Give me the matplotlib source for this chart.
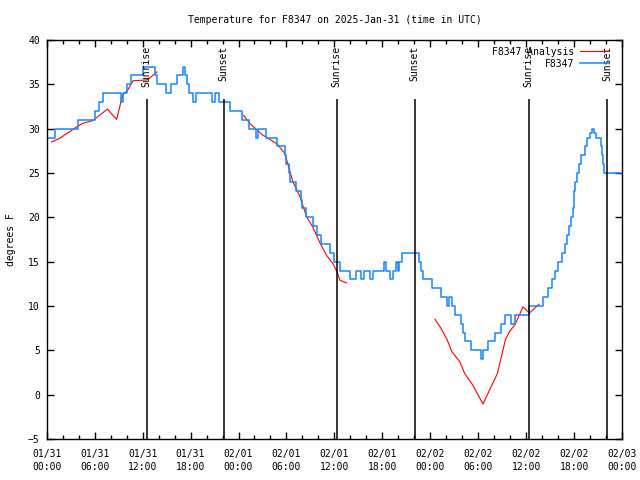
import numpy as np
import matplotlib
matplotlib.use("Agg")
from matplotlib import pyplot as plt
from matplotlib.ticker import MultipleLocator

# hours since 2025-01-31 00:00 UTC
obs_hours = [0.0, 1.0, 3.9, 6.0, 6.5, 7.0, 9.25, 9.6, 10.0, 10.6, 12.0, 13.5, 13.75,
             14.9, 15.5, 16.3, 17.0, 17.3, 17.5, 17.8, 18.3, 18.65, 20.65, 21.0, 21.5,
             22.9, 24.4, 25.3, 26.2, 26.5, 27.5, 28.8, 29.8, 30.0, 30.3, 30.5, 31.2,
             31.8, 32.0, 32.5, 33.3, 33.8, 34.3, 35.4, 35.9, 36.7, 38.0, 38.7, 39.3,
             39.7, 40.4, 40.8, 42.2, 42.4, 42.9, 43.3, 43.7, 43.9, 44.05, 44.4, 46.6,
             46.8, 47.1, 48.2, 49.4, 50.1, 50.4, 50.7, 51.1, 51.8, 52.1, 52.3, 53.1,
             54.3, 54.6, 55.2, 56.1, 56.9, 57.4, 58.1, 58.6, 60.3, 62.1, 62.7, 63.2,
             63.6, 64.0, 64.5, 64.8, 65.1, 65.3, 65.6, 65.8, 66.0, 66.1, 66.3, 66.6,
             66.8, 67.3, 67.6, 67.96, 68.2, 68.5, 68.7, 69.3, 69.5, 69.6, 69.8, 71.8]
obs_temp = [29, 30, 31, 32, 33, 34, 33, 34, 35, 36, 37, 36, 35,
            34, 35, 36, 37, 36, 35, 34, 33, 34, 33, 34, 33,
            32, 31, 30, 29, 30, 29, 28, 27, 26, 25, 24, 23,
            22, 21, 20, 19, 18, 17, 16, 15, 14, 13, 14, 13,
            14, 13, 14, 15, 14, 13, 14, 15, 14, 15, 16, 15,
            14, 13, 12, 11, 10, 11, 10, 9, 8, 7, 6, 5,
            4, 5, 6, 7, 8, 9, 8, 9, 10, 11, 12, 13,
            14, 15, 16, 17, 18, 19, 20, 21, 23, 24, 25, 26,
            27, 28, 29, 29.5, 30, 29.5, 29, 28, 27, 26, 25, 25]

# analysis series (nan = gap)
ana_hours = [0.6, 1.6, 2.6, 3.75, 4.5, 5.75, 6.6, 7.6, 8.75, 9.5, 10.1, 10.8, 12.6, 13.8,
             19.0,
             24.65, 25.4, 27.0, 28.8, 29.8, 30.4, 30.8, 31.3, 31.7, 32.5, 33.3, 34.2,
             35.0, 35.8, 36.3, 36.7, 37.5,
             43.0,
             48.6, 49.4, 50.1, 50.7, 51.7, 52.3, 53.3, 54.6, 55.4, 56.4, 57.4, 57.9,
             58.6, 59.6, 60.4, 61.6]
ana_temp = [28.5, 28.9, 29.5, 30.2, 30.6, 30.9, 31.5, 32.2, 31.05, 33.8, 34.3, 35.4, 35.5, 36.4,
            np.nan,
            31.5, 30.6, 29.3, 28.3, 27.2, 25.3, 24.0, 23.1, 22.3, 20.1, 18.9, 17.1,
            15.75, 14.8, 13.9, 12.9, 12.6,
            np.nan,
            8.5, 7.4, 6.2, 4.85, 3.7, 2.4, 1.1, -1.05, 0.5, 2.4, 6.2, 7.1,
            7.9, 9.9, 9.2, 10.2]

sun_hours = [12.5, 22.15, 36.3, 46.06, 60.3, 70.1]
sun_labels = ["Sunrise", "Sunset", "Sunrise", "Sunset", "Sunrise", "Sunset"]

tick_hours = [0, 6, 12, 18, 24, 30, 36, 42, 48, 54, 60, 66, 72]
tick_labels = ["01/31\n00:00", "01/31\n06:00", "01/31\n12:00", "01/31\n18:00",
               "02/01\n00:00", "02/01\n06:00", "02/01\n12:00", "02/01\n18:00",
               "02/02\n00:00", "02/02\n06:00", "02/02\n12:00", "02/02\n18:00",
               "02/03\n00:00"]

plt.rcParams['font.family'] = 'DejaVu Sans Mono'
plt.rcParams['font.size'] = 7

fig = plt.figure(figsize=(6.4, 4.8), dpi=100)
ax = fig.add_axes([0.073, 0.0854, 0.899, 0.8313])

ax.plot(ana_hours, ana_temp, color="#ff0000", lw=0.8, label="F8347 Analysis")
ax.plot(obs_hours, obs_temp, color="#1a85ff", lw=1.1, drawstyle="steps-post", label="F8347")

for h, lab in zip(sun_hours, sun_labels):
    ax.vlines(h, -5, 33.3, color="black", lw=1.1)
    ax.text(h, 39.3, lab, rotation=90, ha="center", va="top")

ax.set_xlim(0, 72)
ax.set_ylim(-5, 40)
ax.set_xticks(tick_hours)
ax.set_xticklabels(tick_labels, linespacing=1.4)
ax.xaxis.set_minor_locator(MultipleLocator(2))
ax.yaxis.set_major_locator(MultipleLocator(5))
ax.tick_params(which="both", direction="in", top=True, right=True, width=1)
ax.tick_params(which="major", length=5, pad=5)
ax.tick_params(axis="x", which="major", pad=7)
ax.tick_params(which="minor", length=3)
for s in ax.spines.values():
    s.set_linewidth(1)

ax.set_title("Temperature for F8347 on 2025-Jan-31 (time in UTC)", fontsize=7, pad=12)
ax.set_ylabel("degrees F", labelpad=9)

ax.legend(loc="upper right", bbox_to_anchor=(0.9896, 1.0), frameon=False,
          markerfirst=False, handlelength=3, borderaxespad=0.3,
          labelspacing=0.2, handletextpad=0.6)

fig.savefig("out.png", dpi=100)
